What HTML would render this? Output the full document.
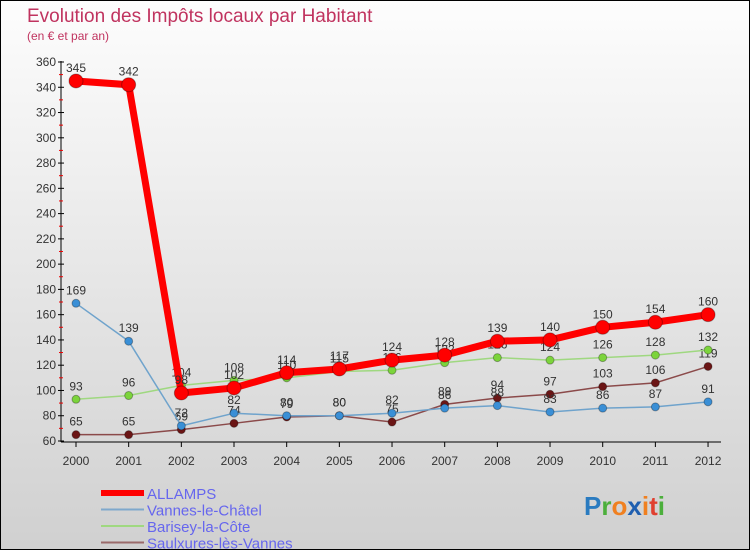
<!DOCTYPE html>
<html><head><meta charset="utf-8"><style>
body{margin:0;}
#wrap{width:748px;height:548px;border:1px solid #000;background:linear-gradient(#fdfdfd,#d0d0d0);position:relative;overflow:hidden;font-family:"Liberation Sans",sans-serif;}
</style></head><body>
<div id="wrap">
<svg id="svg" width="748" height="548"></svg>
</div>
<script>
const years=[2000,2001,2002,2003,2004,2005,2006,2007,2008,2009,2010,2011,2012];
const allamps=[345,342,98,102,114,117,124,128,139,140,150,154,160];
const vannes=[169,139,72,82,80,80,82,86,88,83,86,87,91];
const barisey=[93,96,104,108,110,115,116,122,126,124,126,128,132];
const saulx=[65,65,69,74,79,80,75,89,94,97,103,106,119];
const yTicks=[60,80,100,120,140,160,180,200,220,240,260,280,300,320,340,360];
const NS="http://www.w3.org/2000/svg";
const svg=document.getElementById('svg');
function X(i){return 75+i*52.67;}
function Y(v){return 440-(v-60)*379/300;}
function mk(t,a,p){const e=document.createElementNS(NS,t);for(const k in a)e.setAttribute(k,a[k]);(p||svg).appendChild(e);return e;}
function txt(x,y,s,a){const e=mk('text',Object.assign({x:x,y:y},a));e.textContent=s;return e;}
let t=txt(26,21,'Evolution des Impôts locaux par Habitant',{'font-size':19,fill:'#c0335f'});

t=txt(26,39,'(en € et par an)',{'font-size':12,fill:'#c0335f'});

let ax=mk('line',{x1:60,y1:60,x2:60,y2:441,stroke:'#000'});

ax=mk('line',{x1:60,y1:441,x2:720,y2:441,stroke:'#000'});

yTicks.forEach(v=>{const y=Y(v);mk('line',{x1:57,y1:y,x2:63,y2:y,stroke:'#000'});
 mk('line',{x1:58,y1:y+12.6,x2:62,y2:y+12.6,stroke:v>60?'#e00':'none'});
 const l=txt(55,y+4,String(v),{'font-size':12,fill:'#333','text-anchor':'end'});
 });
years.forEach((yr,i)=>{const x=X(i);mk('line',{x1:x,y1:441,x2:x,y2:446,stroke:'#000'});
 const l=txt(x,464,String(yr),{'font-size':12,fill:'#333','text-anchor':'middle'});
 });
function series(d,col,w,r,name,dot){
 const g=mk('g',{});
 mk('polyline',{points:d.map((v,i)=>X(i)+','+Y(v)).join(' '),fill:'none',stroke:col,'stroke-width':w,'stroke-linejoin':'round'},g);
 d.forEach((v,i)=>{const c=mk('circle',{cx:X(i),cy:Y(v),r:r,fill:dot,stroke:'rgba(0,0,0,0.3)'},g);
  
  txt(X(i),Y(v)-9,String(v),{'font-size':12,fill:'#333','text-anchor':'middle'},g);});
}
series(saulx,'#8b4a4a',1.5,4,'saulxures','#6b1515');
series(barisey,'#9fd880',1.5,4,'barisey','#7cd43c');
series(vannes,'#6fa3cc',1.5,4,'vannes','#3a8fd6');
series(allamps,'#f00',7,7,'allamps','#f00');
const leg=[['ALLAMPS','#f00',6],['Vannes-le-Châtel','#7fa8cc',2],['Barisey-la-Côte','#9fd880',2],['Saulxures-lès-Vannes','#9a6a6a',2]];
leg.forEach((l,i)=>{const y=493+i*16.5;const g=mk('g',{});
 mk('line',{x1:100,y1:y-1,x2:143,y2:y-1,stroke:l[1],'stroke-width':l[2]},g);
 txt(146,y+5,l[0],{'font-size':15,fill:'#6666ee'},g);});
const logo=mk('text',{x:583,y:514,'font-size':26,'font-weight':'bold'});

[['P','#2a7bc0'],['r','#4caf3c'],['o','#f08020'],['x','#1f5fb0'],['i','#f08020'],['t','#e04030'],['i','#4caf3c']].forEach(c=>{const s=mk('tspan',{fill:c[1]},logo);s.textContent=c[0];});
</script>
</body></html>
